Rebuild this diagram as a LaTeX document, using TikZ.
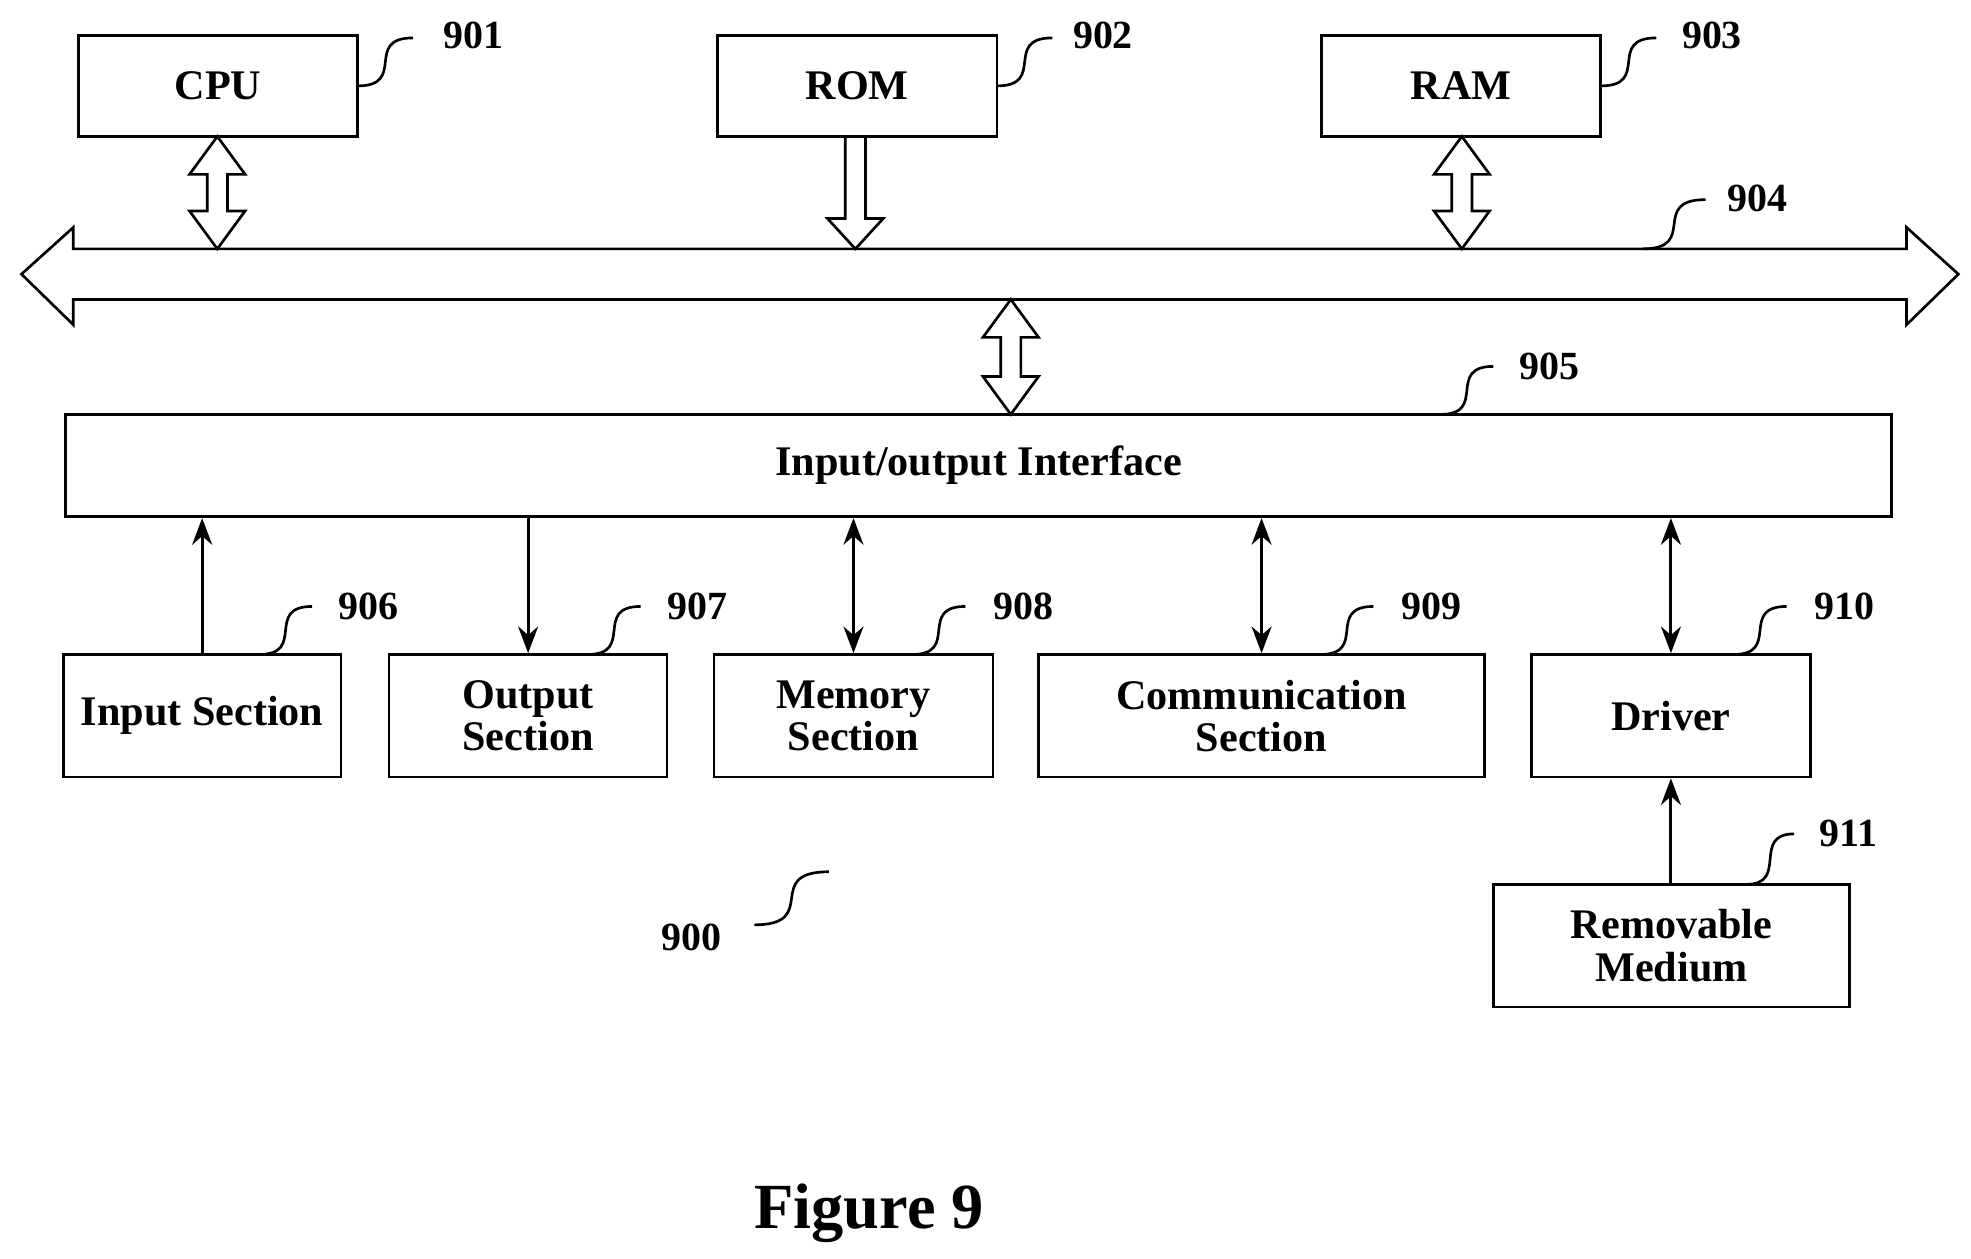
\documentclass[tikz,border=0pt]{standalone}
\usepackage{fontspec}
\setmainfont{Liberation Serif}
\usetikzlibrary{arrows.meta}
% hollow arrows: x, y from, y to
\newcommand{\hbiarrow}[3]{\draw[line width=1.2pt,fill=white] (#1,#2) -- (#1+22,#2+30) -- (#1+8,#2+30) -- (#1+8,#3-30) -- (#1+22,#3-30) -- (#1,#3) -- (#1-22,#3-30) -- (#1-8,#3-30) -- (#1-8,#2+30) -- (#1-22,#2+30) -- cycle;}
\newcommand{\hdownarrow}[3]{\draw[line width=1.2pt,fill=white] (#1-8,#2) -- (#1+8,#2) -- (#1+8,#3-24) -- (#1+22,#3-24) -- (#1,#3) -- (#1-22,#3-24) -- (#1-8,#3-24) -- cycle;}
\newcommand{\squig}[4]{\draw[line width=1.2pt] (#1,#2) .. controls (#1+0.9*#3-0.9*#1,#2) and (#1+0.1*#3-0.1*#1,#4) .. (#3,#4);}
\begin{document}
\begin{tikzpicture}[
                    x=0.02cm, y=-0.02cm,
                    box/.style={
                        draw,
                        line width=1.2pt,
                        align=center,
                        inner sep=0pt,
                        font=\fontsize{19}{19}\selectfont\bfseries
                    },
                    lbl/.style={font=\fontsize{18}{17}\selectfont\bfseries},
                    conn/.style={line width=1.4pt, -{Stealth[length=12pt,width=9pt]}},
                    biconn/.style={line width=1.4pt, {Stealth[length=12pt,width=9pt]}-{Stealth[length=12pt,width=9pt]}}
                ]
                    \useasboundingbox (0,0) rectangle (1560,996);
                    \node[box, minimum width=221*0.02cm, minimum height=80*0.02cm] (cpu) at (172.5,68) {CPU};
                    \node[box, minimum width=221*0.02cm, minimum height=80*0.02cm] (rom) at (678.5,68) {ROM};
                    \node[box, minimum width=221*0.02cm, minimum height=80*0.02cm] (ram) at (1156.5,68) {RAM};
                    \node[box, minimum width=1445*0.02cm, minimum height=81*0.02cm] (io) at (774.5,368.5) {Input/output Interface};
                    \node[box, minimum width=220*0.02cm, minimum height=97*0.02cm] (in) at (160,566.5) {Input Section};
                    \node[box, minimum width=220*0.02cm, minimum height=97*0.02cm] (out) at (418,566.5) {Output\\Section};
                    \node[box, minimum width=221*0.02cm, minimum height=97*0.02cm] (mem) at (675.5,566.5) {Memory\\Section};
                    \node[box, minimum width=353*0.02cm, minimum height=97*0.02cm] (com) at (998.5,566.5) {Communication\\Section};
                    \node[box, minimum width=221*0.02cm, minimum height=97*0.02cm] (drv) at (1322.5,566.5) {Driver};
                    \node[box, minimum width=282*0.02cm, minimum height=97*0.02cm] (rem) at (1323,748.5) {Removable\\Medium};
                    
                    % Bus
                    \draw[line width=1.2pt,fill=white] (17,217) -- (58,180) -- (58,197) -- (1509,197) -- (1509,180) -- (1550,217) -- (1509,257) -- (1509,237) -- (58,237) -- (58,257) -- cycle;
                    \hbiarrow{172}{108}{197}
                    \hdownarrow{677}{108}{197}
                    \hbiarrow{1157}{108}{197}
                    \hbiarrow{800}{237}{328}
                    
                    % Edges
                    \draw[conn] (in.north) -- (in.north |- io.south);
                    \draw[conn] (out.north |- io.south) -- (out.north);
                    \draw[biconn] (mem.north |- io.south) -- (mem.north);
                    \draw[biconn] (com.north |- io.south) -- (com.north);
                    \draw[biconn] (drv.north |- io.south) -- (drv.north);
                    \draw[conn] (rem.north -| drv.south) -- (drv.south);
                    
                    % Reference numerals
                    \squig{283}{68}{327}{30}  \node[lbl] (n901) at (375,28) {901};
                    \squig{789}{68}{833}{30}  \node[lbl] (n902) at (873,28) {902};
                    \squig{1267}{68}{1311}{30} \node[lbl] (n903) at (1355,28) {903};
                    \squig{1300}{197}{1350}{158} \node[lbl] (n904) at (1391,157) {904};
                    \squig{1140}{328}{1182}{290} \node[lbl] (n905) at (1226,290) {905};
                    \squig{205}{518}{247}{480} \node[lbl] (n906) at (292,480) {906};
                    \squig{465}{518}{507}{480} \node[lbl] (n907) at (552,480) {907};
                    \squig{722}{518}{764}{480} \node[lbl] (n908) at (810,480) {908};
                    \squig{1045}{518}{1087}{480} \node[lbl] (n909) at (1133,480) {909};
                    \squig{1372}{518}{1414}{480} \node[lbl] (n910) at (1460,480) {910};
                    \squig{1382}{700}{1420}{660} \node[lbl] (n911) at (1463,660) {911};
                    \squig{597}{732}{656}{690} \node[lbl] (n900) at (547,742) {900};
                    \node[font=\fontsize{29}{28}\selectfont\bfseries] (fig) at (688,960) {Figure 9};
                \end{tikzpicture}
\end{document}
